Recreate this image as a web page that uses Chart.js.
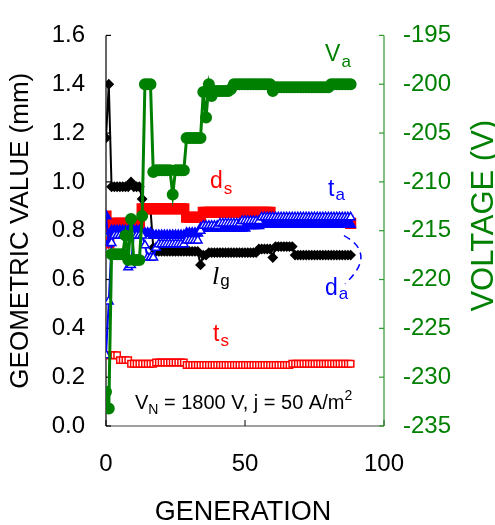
<!DOCTYPE html>
<html lang="en">
<head>
<meta charset="UTF-8">
<title>Geometric value and voltage vs generation</title>
<script src="https://cdn.jsdelivr.net/npm/chart.js"></script>
<style>
  body { margin: 0; padding: 0; background: #ffffff; }
  #wrap { width: 495px; height: 525px; position: relative; }
</style>
</head>
<body>
<div id="wrap"><canvas id="geoChart"></canvas></div>
<script>
// generation index (x)
const generations = [
  0, 1, 2, 3, 4, 5, 6, 7, 8, 9,
  10, 11, 12, 13, 14, 15, 16, 17, 18, 19,
  20, 21, 22, 23, 24, 25, 26, 27, 28, 29,
  30, 31, 32, 33, 34, 35, 36, 37, 38, 39,
  40, 41, 42, 43, 44, 45, 46, 47, 48, 49,
  50, 51, 52, 53, 54, 55, 56, 57, 58, 59,
  60, 61, 62, 63, 64, 65, 66, 67, 68, 69,
  70, 71, 72, 73, 74, 75, 76, 77, 78, 79,
  80, 81, 82, 83, 84, 85, 86, 87, 88
];

// V_a (V), right axis
const voltageVa = [
  -231.5, -233.2, -217.4, -217.4, -217.4, -217.4, -217.4, -215.5, -218.0, -213.8,
  -218.0, -218.0, -218.0, -213.5, -200.0, -200.0, -200.0, -209.0, -208.8, -208.8,
  -208.8, -208.8, -208.8, -208.8, -211.3, -208.8, -208.8, -208.8, -208.8, -205.5,
  -205.5, -205.5, -205.5, -205.5, -205.5, -200.8, -203.4, -200.0, -201.2, -200.7,
  -200.7, -200.7, -200.7, -200.7, -200.7, -200.5, -200.0, -200.0, -200.0, -200.0,
  -200.0, -200.0, -200.0, -200.0, -200.0, -200.0, -200.0, -200.0, -200.0, -200.0,
  -200.7, -200.3, -200.3, -200.3, -200.3, -200.3, -200.3, -200.3, -200.3, -200.3,
  -200.3, -200.3, -200.3, -200.3, -200.3, -200.3, -200.3, -200.3, -200.3, -200.3,
  -200.3, -200.0, -200.0, -200.0, -200.0, -200.0, -200.0, -200.0, -200.0
];

// t_a (mm), open blue triangles
const tA = [
  0.29, 0.51, 0.75, 0.78, 0.78, 0.78, 0.78, 0.78, 0.65, 0.66,
  0.78, 0.78, 0.78, 0.78, 0.74, 0.69, 0.69, 0.69, 0.73, 0.745,
  0.745, 0.745, 0.745, 0.745, 0.745, 0.745, 0.745, 0.745, 0.745, 0.76,
  0.76, 0.76, 0.76, 0.76, 0.80, 0.82, 0.82, 0.82, 0.82, 0.82,
  0.82, 0.83, 0.83, 0.83, 0.83, 0.83, 0.83, 0.83, 0.83, 0.84,
  0.84, 0.84, 0.84, 0.84, 0.84, 0.84, 0.855, 0.855, 0.855, 0.855,
  0.855, 0.855, 0.855, 0.855, 0.855, 0.855, 0.855, 0.855, 0.855, 0.855,
  0.855, 0.855, 0.855, 0.855, 0.855, 0.855, 0.855, 0.855, 0.855, 0.855,
  0.855, 0.855, 0.855, 0.855, 0.855, 0.855, 0.855, 0.855, 0.855
];

// d_a (mm), filled blue triangles
const dA = [
  0.86, 0.75, 0.80, 0.80, 0.80, 0.80, 0.80, 0.80, 0.80, 0.80,
  0.80, 0.80, 0.80, 0.79, 0.79, 0.79, 0.79, 0.78, 0.78, 0.78,
  0.78, 0.78, 0.78, 0.78, 0.78, 0.78, 0.78, 0.78, 0.78, 0.79,
  0.79, 0.79, 0.79, 0.79, 0.81, 0.81, 0.81, 0.81, 0.81, 0.81,
  0.81, 0.81, 0.81, 0.81, 0.81, 0.81, 0.81, 0.81, 0.81, 0.81,
  0.81, 0.82, 0.82, 0.82, 0.82, 0.82, 0.825, 0.825, 0.825, 0.825,
  0.825, 0.825, 0.825, 0.825, 0.825, 0.825, 0.825, 0.825, 0.825, 0.825,
  0.825, 0.825, 0.825, 0.825, 0.825, 0.825, 0.825, 0.825, 0.825, 0.825,
  0.825, 0.825, 0.825, 0.825, 0.825, 0.825, 0.825, 0.825, 0.825
];

// d_s (mm), filled red squares
const dS = [
  0.86, 0.75, 0.83, 0.83, 0.83, 0.83, 0.83, 0.83, 0.83, 0.83,
  0.83, 0.83, 0.83, 0.89, 0.89, 0.89, 0.89, 0.89, 0.89, 0.89,
  0.89, 0.89, 0.89, 0.89, 0.89, 0.89, 0.89, 0.89, 0.89, 0.855,
  0.855, 0.855, 0.855, 0.855, 0.855, 0.875, 0.875, 0.875, 0.875, 0.875,
  0.875, 0.875, 0.875, 0.875, 0.875, 0.875, 0.875, 0.875, 0.875, 0.875,
  0.875, 0.875, 0.875, 0.875, 0.875, 0.875, 0.875, 0.875, 0.875, 0.875,
  0.84, 0.84, 0.84, 0.84, 0.84, 0.84, 0.84, 0.84, 0.84, 0.84,
  0.84, 0.84, 0.84, 0.84, 0.84, 0.84, 0.84, 0.84, 0.84, 0.84,
  0.84, 0.84, 0.84, 0.84, 0.84, 0.84, 0.84, 0.84, 0.83
];

// l_g (mm), black diamonds
const lG = [
  1.18, 1.40, 0.98, 0.98, 0.98, 0.98, 0.98, 0.98, 0.98, 1.00,
  0.98, 0.98, 0.98, 0.93, 0.89, 0.89, 0.89, 0.73, 0.715, 0.715,
  0.715, 0.715, 0.715, 0.715, 0.715, 0.715, 0.715, 0.715, 0.715, 0.715,
  0.715, 0.715, 0.715, 0.715, 0.66, 0.70, 0.70, 0.71, 0.71, 0.71,
  0.71, 0.71, 0.71, 0.71, 0.71, 0.71, 0.71, 0.71, 0.71, 0.71,
  0.71, 0.71, 0.71, 0.71, 0.71, 0.725, 0.725, 0.725, 0.725, 0.725,
  0.69, 0.735, 0.735, 0.735, 0.735, 0.735, 0.735, 0.735, 0.70, 0.70,
  0.70, 0.70, 0.70, 0.70, 0.70, 0.70, 0.70, 0.70, 0.70, 0.70,
  0.70, 0.70, 0.70, 0.70, 0.70, 0.70, 0.70, 0.70, 0.70
];

// t_s (mm), open red squares
const tS = [
  0.29, 0.29, 0.29, 0.29, 0.29, 0.27, 0.27, 0.27, 0.27, 0.255,
  0.255, 0.255, 0.255, 0.255, 0.255, 0.255, 0.255, 0.255, 0.26, 0.26,
  0.26, 0.26, 0.26, 0.26, 0.26, 0.26, 0.26, 0.26, 0.26, 0.25,
  0.25, 0.25, 0.25, 0.25, 0.25, 0.25, 0.25, 0.25, 0.25, 0.25,
  0.25, 0.25, 0.25, 0.25, 0.25, 0.25, 0.25, 0.25, 0.25, 0.25,
  0.25, 0.25, 0.25, 0.25, 0.25, 0.25, 0.25, 0.25, 0.25, 0.25,
  0.25, 0.25, 0.25, 0.25, 0.25, 0.25, 0.25, 0.255, 0.255, 0.255,
  0.255, 0.255, 0.255, 0.255, 0.255, 0.255, 0.255, 0.255, 0.255, 0.255,
  0.255, 0.255, 0.255, 0.255, 0.255, 0.255, 0.255, 0.255, 0.255
];

// curve labels: [main, subscript, gen, value, colour, subscript drop]
const seriesLabels = [
  ['V', 'a', 78.8, 1.494, '#008000', 6],
  ['d', 's', 37.4, 0.973, '#ff0000', 6],
  ['t', 'a', 79.9, 0.942, '#0000ff', 4],
  ['l', 'g', 38.1, 0.583, '#000000', 2],
  ['d', 'a', 78.8, 0.536, '#0000ff', 4],
  ['t', 's', 38.5, 0.347, '#ff0000', 5]
];

const FONT = 'Arial, "Liberation Sans", sans-serif';
const GREEN = '#008000';

function pts(arr) {
  return generations.map((g, i) => ({ x: g, y: arr[i] }));
}

function drawSub(ctx, x, y, main, sub, color, mainFont, subFont, drop) {
  ctx.fillStyle = color;
  ctx.textAlign = 'left';
  ctx.textBaseline = 'alphabetic';
  ctx.font = mainFont;
  ctx.fillText(main, x, y);
  const w = ctx.measureText(main).width;
  ctx.font = subFont;
  ctx.fillText(sub, x + w + 1, y + drop);
}

const decorPlugin = {
  id: 'decor',
  beforeDatasetsDraw(chart) {
    const { ctx, chartArea: a, scales } = chart;
    ctx.save();
    // bottom axis (grey)
    ctx.strokeStyle = '#808080';
    ctx.lineWidth = 1.5;
    ctx.beginPath(); ctx.moveTo(a.left, a.bottom); ctx.lineTo(a.right, a.bottom); ctx.stroke();
    // x tick at 50
    ctx.strokeStyle = '#000';
    ctx.lineWidth = 1;
    scales.x.ticks.forEach(t => {
      const px = scales.x.getPixelForValue(t.value);
      ctx.beginPath(); ctx.moveTo(px, a.bottom); ctx.lineTo(px, a.bottom - 6); ctx.stroke();
    });
    // left axis (black) with inward ticks
    ctx.strokeStyle = '#000';
    ctx.lineWidth = 1.2;
    ctx.beginPath(); ctx.moveTo(a.left, a.top); ctx.lineTo(a.left, a.bottom); ctx.stroke();
    scales.y.ticks.forEach(t => {
      const py = scales.y.getPixelForValue(t.value);
      ctx.beginPath(); ctx.moveTo(a.left, py); ctx.lineTo(a.left + 5, py); ctx.stroke();
    });
    // right axis (green) with inward ticks
    ctx.strokeStyle = '#2e9a2e';
    ctx.beginPath(); ctx.moveTo(a.right, a.top); ctx.lineTo(a.right, a.bottom); ctx.stroke();
    scales.y2.ticks.forEach(t => {
      const py = scales.y2.getPixelForValue(t.value);
      ctx.beginPath(); ctx.moveTo(a.right, py); ctx.lineTo(a.right - 5, py); ctx.stroke();
    });
    ctx.restore();
  },
  afterDraw(chart) {
    const { ctx, chartArea: a, scales } = chart;
    const sx = scales.x, sy = scales.y;
    ctx.save();
    // axis titles
    ctx.textAlign = 'center';
    ctx.textBaseline = 'middle';
    ctx.fillStyle = '#000';
    ctx.font = '26px ' + FONT;
    ctx.save(); ctx.translate(21, (a.top + a.bottom) / 2); ctx.rotate(-Math.PI / 2);
    ctx.fillText('GEOMETRIC VALUE (mm)', 0, 0); ctx.restore();
    ctx.fillStyle = GREEN;
    ctx.font = '31px ' + FONT;
    ctx.save(); ctx.translate(484, (a.top + a.bottom) / 2 - 15); ctx.rotate(-Math.PI / 2);
    ctx.fillText('VOLTAGE (V)', 0, 0); ctx.restore();
    ctx.fillStyle = '#000';
    ctx.font = '27px ' + FONT;
    ctx.textBaseline = 'alphabetic';
    ctx.fillText('GENERATION', (a.left + a.right) / 2 - 2, 520);

    // series labels
    seriesLabels.forEach(([m, s, gx, gy, col, drop]) => {
      const mf = m === 'l' ? 'italic 26px "Liberation Serif", serif' : '23px ' + FONT;
      drawSub(ctx, sx.getPixelForValue(gx), sy.getPixelForValue(gy), m, s, col, mf, '17px ' + FONT, drop);
    });

    // d_a leader (dashed)
    ctx.strokeStyle = '#0000ff';
    ctx.lineWidth = 1.5;
    ctx.setLineDash([7, 5]);
    ctx.beginPath();
    ctx.moveTo(sx.getPixelForValue(85.6), sy.getPixelForValue(0.78));
    ctx.quadraticCurveTo(sx.getPixelForValue(97.6), sy.getPixelForValue(0.705),
                         sx.getPixelForValue(86), sy.getPixelForValue(0.583));
    ctx.stroke();
    ctx.setLineDash([]);

    // conditions text
    let x = sx.getPixelForValue(10.4);
    const y = sy.getPixelForValue(0.071);
    ctx.fillStyle = '#000';
    ctx.textAlign = 'left';
    ctx.font = '20px ' + FONT;
    ctx.fillText('V', x, y); x += ctx.measureText('V').width;
    ctx.font = '14px ' + FONT;
    ctx.fillText('N', x, y + 5); x += ctx.measureText('N').width;
    ctx.font = '20px ' + FONT;
    const mid = ' = 1800 V, j = 50 A/m';
    ctx.fillText(mid, x, y); x += ctx.measureText(mid).width;
    ctx.font = '14px ' + FONT;
    ctx.fillText('2', x, y - 9);
    ctx.restore();
  }
};

const ctx = document.getElementById('geoChart').getContext('2d');

new Chart(ctx, {
  type: 'line',
  data: {
    datasets: [
      {
        label: 'V_a', data: pts(voltageVa), yAxisID: 'y2',
        borderColor: GREEN, backgroundColor: GREEN, borderWidth: 3,
        pointStyle: 'circle', pointRadius: 4.5, pointBackgroundColor: GREEN, pointBorderColor: GREEN
      },
      {
        label: 't_a', data: pts(tA), yAxisID: 'y',
        borderColor: '#0000ff', borderWidth: 2,
        pointStyle: 'triangle', pointRadius: 5, pointBorderWidth: 1.5,
        pointBackgroundColor: '#ffffff', pointBorderColor: '#0000ff'
      },
      {
        label: 'd_a', data: pts(dA), yAxisID: 'y',
        borderColor: '#0000ff', borderWidth: 2,
        pointStyle: 'triangle', pointRadius: 5,
        pointBackgroundColor: '#0000ff', pointBorderColor: '#0000ff'
      },
      {
        label: 'd_s', data: pts(dS), yAxisID: 'y',
        borderColor: '#ff0000', borderWidth: 2,
        pointStyle: 'rect', pointRadius: 6.5,
        pointBackgroundColor: '#ff0000', pointBorderColor: '#ff0000'
      },
      {
        label: 'l_g', data: pts(lG), yAxisID: 'y',
        borderColor: '#000000', borderWidth: 2,
        pointStyle: 'rectRot', pointRadius: 4,
        pointBackgroundColor: '#000000', pointBorderColor: '#000000'
      },
      {
        label: 't_s', data: pts(tS), yAxisID: 'y',
        borderColor: '#ff0000', borderWidth: 1.5,
        pointStyle: 'rect', pointRadius: 4.5, pointBorderWidth: 1.5,
        pointBackgroundColor: '#ffffff', pointBorderColor: '#ff0000'
      }
    ]
  },
  options: {
    responsive: true,
    maintainAspectRatio: false,
    animation: false,
    layout: { padding: { top: 20, left: 0, right: 0, bottom: 0 } },
    plugins: { legend: { display: false }, tooltip: { enabled: false } },
    elements: { line: { tension: 0 } },
    scales: {
      x: {
        type: 'linear', min: 0, max: 100,
        grid: { display: false, drawTicks: false }, border: { display: false },
        ticks: { stepSize: 50, padding: 24, color: '#000', font: { size: 24, family: FONT } },
        afterFit: s => { s.height = 99; }
      },
      y: {
        position: 'left', min: 0, max: 1.6,
        grid: { display: false, drawTicks: false }, border: { display: false },
        ticks: {
          stepSize: 0.2, padding: 21, color: '#000', font: { size: 24, family: FONT },
          callback: v => Number(v).toFixed(1)
        },
        afterFit: s => { s.width = 106; }
      },
      y2: {
        position: 'right', min: -235, max: -195,
        grid: { display: false, drawTicks: false }, border: { display: false },
        ticks: { stepSize: 5, padding: 19, color: GREEN, font: { size: 24, family: FONT } },
        afterFit: s => { s.width = 111; }
      }
    }
  },
  plugins: [decorPlugin]
});
</script>
</body>
</html>
